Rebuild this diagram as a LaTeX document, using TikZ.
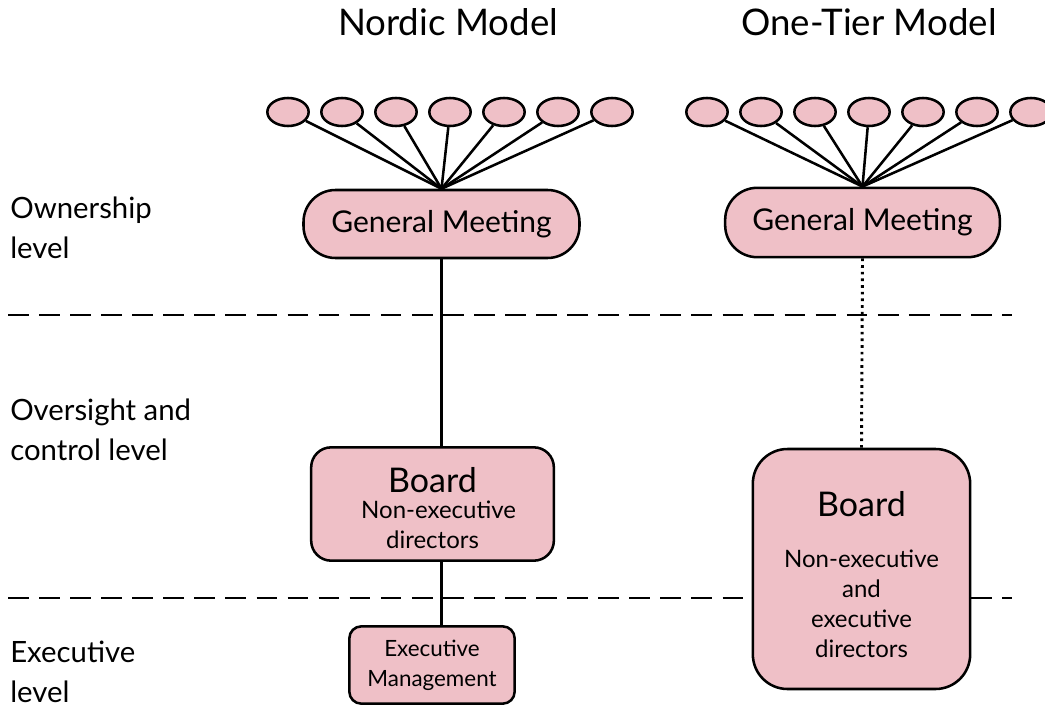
\documentclass[tikz,border=0pt]{standalone}
\usepackage{fontspec}
\setmainfont{Lato}
\usetikzlibrary{shapes.geometric}
\definecolor{govpink}{RGB}{239,192,199}
\tikzset{
  owner/.style={ellipse,draw,line width=1.9pt,fill=govpink,minimum width=31pt,minimum height=21pt,inner sep=0pt},
  meeting/.style={draw,line width=1.9pt,fill=govpink,rounded corners=24pt,font=\fontsize{22.5}{26}\selectfont,inner sep=0pt},
  bodybox/.style={draw,line width=1.9pt,fill=govpink,align=center,inner sep=0pt,font=\fontsize{18}{22.5}\selectfont},
  levelsep/.style={line width=2pt,dash pattern=on 15.5pt off 7.8pt},
  tie/.style={line width=1.9pt},
  leveltext/.style={anchor=west,align=left,inner sep=0pt,font=\fontsize{22}{30}\selectfont}
}
\begin{document}
\begin{tikzpicture}[x=0.75pt,y=-0.75pt]
\useasboundingbox (0,0) rectangle (1045,710);
\pgfmathsetmacro{\rowy}{112}
\pgfmathsetmacro{\gap}{54}
% level separators
\draw[levelsep](8,315)--(1012,315);
\draw[levelsep](8,598)--(1012,598);
% titles
\node[font=\fontsize{27.5}{30}\selectfont] (tA) at (448,22) {Nordic Model};
\node[font=\fontsize{27.5}{30}\selectfont] (tB) at (869,22) {One-Tier Model};
% levels
\node[leveltext] (lvA) at (10,228) {Ownership\\level};
\node[leveltext] (lvB) at (10,430) {Oversight and\\control level};
\node[leveltext] (lvC) at (10,672) {Executive\\level};
% Nordic model
\node[meeting,minimum width=207pt,minimum height=51pt] (gmA) at (441.5,224) {General Meeting};
\node[bodybox,rounded corners=15pt,minimum width=182pt,minimum height=85pt] (bdA) at (432.5,504)
  {\rule{0pt}{25pt}{\fontsize{25.5}{26}\selectfont Board}\\[-3pt]\ \ Non-executive\\directors};
\node[bodybox,rounded corners=9pt,minimum width=124pt,minimum height=58pt,font=\fontsize{16.8}{22.5}\selectfont] (exA) at (432,665)
  {Executive\\Management};
\foreach \i in {0,...,6}{
  \node[owner] (oA\i) at (288+\i*\gap,\rowy) {};
  \draw[tie](oA\i)--(gmA.north);
}
\draw[tie](gmA.south)--(gmA.south |- bdA.north);
\draw[tie](gmA.south |- bdA.south)--(gmA.south |- exA.north);
% One-tier model
\node[meeting,minimum width=206pt,minimum height=52pt] (gmB) at (862.5,222.5) {General Meeting};
\node[bodybox,rounded corners=26pt,minimum width=163pt,minimum height=180pt] (bdB) at (861.5,569)
  {\rule{0pt}{27pt}{\fontsize{25.5}{26}\selectfont Board}\\[16pt]Non-executive\\and\\executive\\directors};
\foreach \i in {0,...,6}{
  \node[owner] (oB\i) at (707+\i*\gap,\rowy) {};
  \draw[tie](oB\i)--(gmB.north);
}
\draw[line width=2.2pt,dash pattern=on 2pt off 3pt](gmB.south)--(bdB.north);
\end{tikzpicture}
\end{document}
